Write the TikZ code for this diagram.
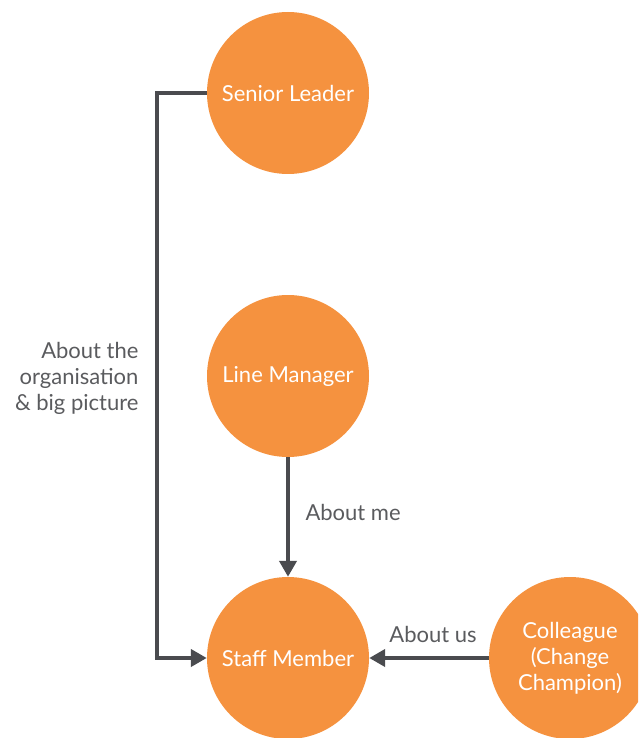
\documentclass[tikz,border=0pt]{standalone}
\usepackage{fontspec}
\setmainfont{Lato}
\usetikzlibrary{arrows.meta}
\definecolor{circleorange}{HTML}{F5923F}
\definecolor{linkgray}{HTML}{4A4B4F}
\definecolor{labelgray}{HTML}{5A5B5E}
\tikzset{
  person/.style={circle, fill=circleorange, minimum size=162pt, inner sep=0pt,
    text=white, align=center, font=\fontsize{22}{26}\selectfont},
  link/.style={line width=4pt, draw=linkgray, -{Triangle[length=16pt,width=17pt]}},
  linklabel/.style={text=labelgray, align=right, font=\fontsize{22}{26}\selectfont}
}
\begin{document}
\begin{tikzpicture}[x=1pt, y=-1pt]
  \useasboundingbox (0,0) rectangle (638,738);
  \clip (0,0) rectangle (638,738);

  % Kreise
  \node[person] (senior) at (288,93) {Senior Leader};
  \node[person] (manager) at (288,376) {Line Manager};
  \node[person] (staff) at (288,658) {Staff Member};
  \node[person] (colleague) at (570,658) {Colleague\\(Change\\Champion)};

  % Verbindungen
  \coordinate (bend) at (157,93);
  \draw[link] (senior.west) -- (bend) |- (staff.west);
  \draw[link] (manager.south) -- (staff.north);
  \draw[link] (colleague.west) -- (staff.east);

  % Beschriftungen
  \node[linklabel, anchor=east] (orglabel) at (142,378) {About the\\organisation\\\& big picture};
  \node[linklabel, anchor=west] (melabel) at (302,512) {About me};
  \node[linklabel] (uslabel) at (433,634) {About us};
\end{tikzpicture}
\end{document}
